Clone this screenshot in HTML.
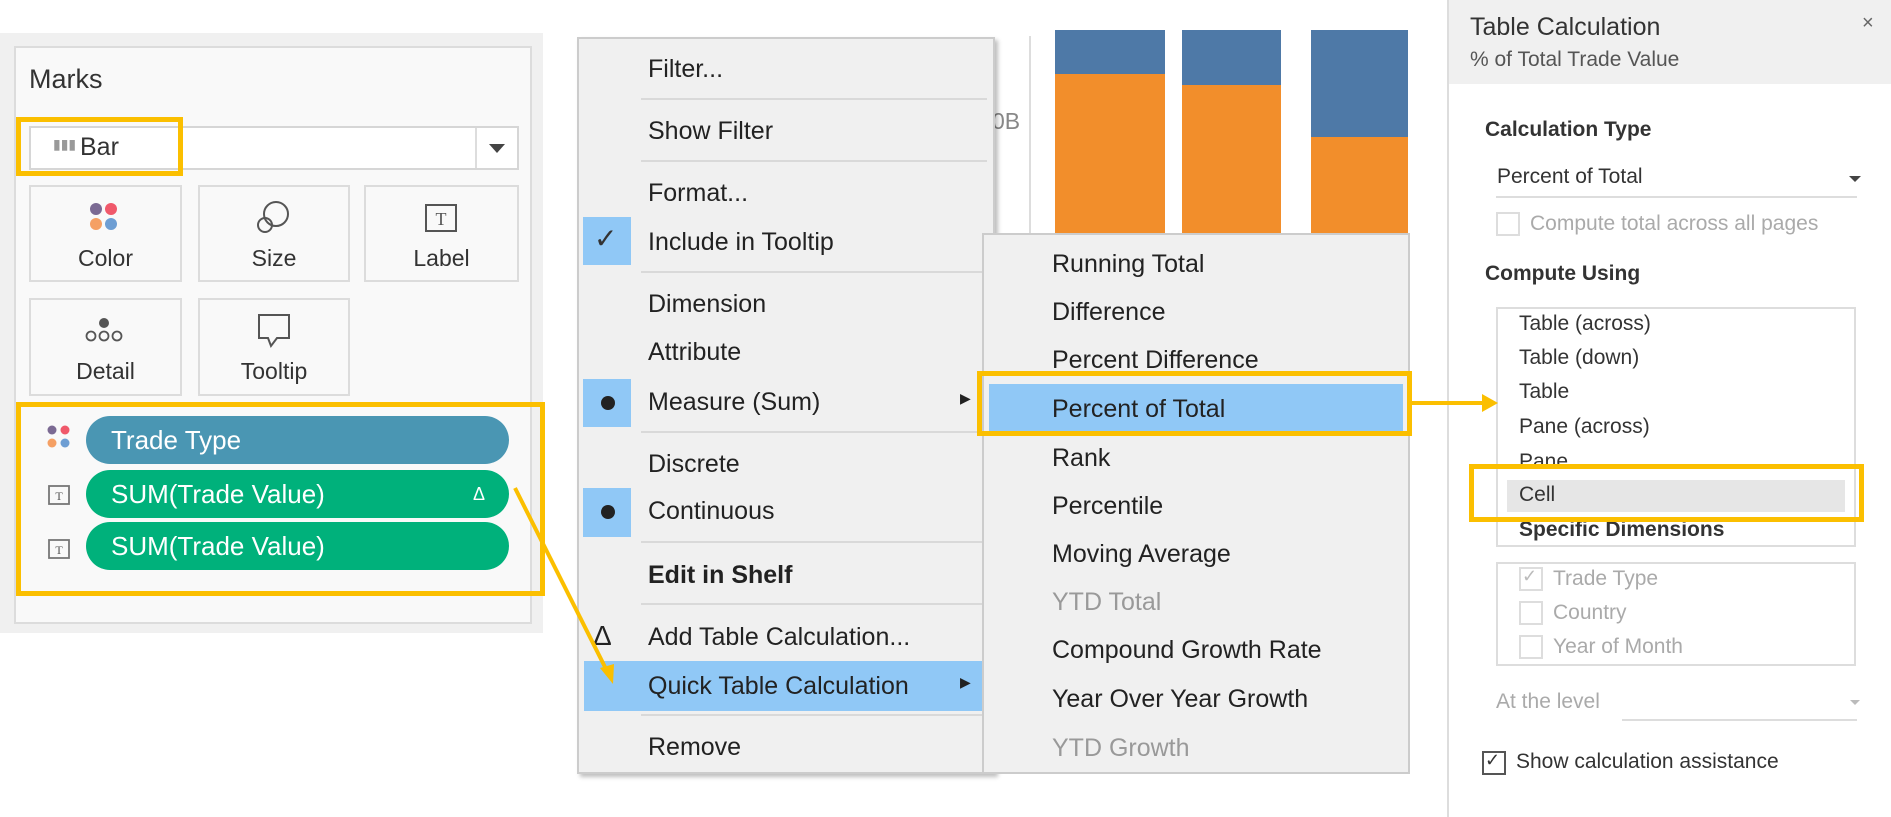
<!DOCTYPE html>
<html><head><meta charset="utf-8"><style>
*{box-sizing:border-box;margin:0;padding:0}
body{width:1891px;height:817px;position:relative;background:#fff;font-family:"Liberation Sans",sans-serif;overflow:hidden;color:#222}
.a{position:absolute}
.t{position:absolute;white-space:nowrap}
.card{position:absolute;border:2px solid #dcdcdc;background:#f9f9f9;text-align:center;font-size:23px;color:#333}
.mi{position:absolute;left:648px;font-size:25px;color:#222;white-space:nowrap}
.sep{position:absolute;left:641px;width:346px;height:2px;background:#d9d9d9}
.si{position:absolute;left:1052px;font-size:25px;color:#222;white-space:nowrap}
.yb{position:absolute;border:5px solid #fbbf00}
.pill{position:absolute;left:86px;width:423px;height:48px;border-radius:24px;color:#fff;font-size:26px;line-height:48px;padding-left:25px}
.li{position:absolute;left:1519px;font-size:21px;color:#333;white-space:nowrap}
.cb{position:absolute;width:24px;height:24px;border:2px solid #ccc;background:#fff}
</style></head><body>
<!-- Marks panel -->
<div class="a" style="left:0;top:33px;width:543px;height:600px;background:#f0f0f0"></div>
<div class="a" style="left:14px;top:46px;width:518px;height:578px;background:#f9f9f9;border:2px solid #dcdcdc"></div>
<div class="t" style="left:29px;top:64px;font-size:27px;color:#333">Marks</div>
<div class="a" style="left:29px;top:126px;width:490px;height:44px;border:2px solid #d6d6d6;background:#fff"></div>
<div class="a" style="left:475px;top:128px;width:2px;height:40px;background:#ddd"></div>
<div class="a" style="left:489px;top:144px;width:0;height:0;border-left:8px solid transparent;border-right:8px solid transparent;border-top:9px solid #444"></div>
<div class="t" style="left:53px;top:136px;font-size:14px;color:#999">▮▮▮</div>
<div class="t" style="left:80px;top:133px;font-size:25px;color:#333">Bar</div>
<div class="yb" style="left:16px;top:117px;width:167px;height:59px"></div>
<div class="card" style="left:29px;top:185px;width:153px;height:97px"><div style="margin-top:58px">Color</div></div>
<div class="card" style="left:198px;top:185px;width:152px;height:97px"><div style="margin-top:58px">Size</div></div>
<div class="card" style="left:364px;top:185px;width:155px;height:97px"><div style="margin-top:58px">Label</div></div>
<div class="card" style="left:29px;top:298px;width:153px;height:98px"><div style="margin-top:58px">Detail</div></div>
<div class="card" style="left:198px;top:298px;width:152px;height:98px"><div style="margin-top:58px">Tooltip</div></div>
<!-- icons -->
<svg class="a" style="left:0;top:0" width="560" height="400">
<circle cx="96" cy="209" r="6" fill="#7b6a93"/><circle cx="111" cy="209" r="6" fill="#f0596b"/>
<circle cx="96" cy="224" r="6" fill="#f5a064"/><circle cx="111" cy="224" r="6" fill="#6e9ed3"/>
<circle cx="276" cy="214" r="12" fill="none" stroke="#555" stroke-width="2"/><circle cx="265" cy="225" r="7" fill="none" stroke="#555" stroke-width="2"/>
<rect x="426" y="205" width="30" height="26" fill="none" stroke="#555" stroke-width="2"/><text x="441" y="225" font-size="18" text-anchor="middle" font-family="Liberation Serif" fill="#555">T</text>
<circle cx="104" cy="323" r="5" fill="#555"/><circle cx="91" cy="336" r="4.5" fill="none" stroke="#555" stroke-width="1.8"/><circle cx="104" cy="336" r="4.5" fill="none" stroke="#555" stroke-width="1.8"/><circle cx="117" cy="336" r="4.5" fill="none" stroke="#555" stroke-width="1.8"/>
<path d="M259 315 h30 v23 h-12 l-6 8 l-3 -8 h-9 z" fill="none" stroke="#555" stroke-width="2"/>
</svg>
<div class="yb" style="left:16px;top:402px;width:529px;height:194px"></div>
<svg class="a" style="left:0;top:400px" width="80" height="200">
<circle cx="52" cy="30" r="4.5" fill="#7b6a93"/><circle cx="65" cy="30" r="4.5" fill="#f0596b"/><circle cx="52" cy="43" r="4.5" fill="#f5a064"/><circle cx="65" cy="43" r="4.5" fill="#6e9ed3"/>
<rect x="49" y="86" width="20" height="18" fill="none" stroke="#777" stroke-width="1.8"/><text x="59" y="100" font-size="12" text-anchor="middle" font-family="Liberation Serif" fill="#555">T</text>
<rect x="49" y="140" width="20" height="18" fill="none" stroke="#777" stroke-width="1.8"/><text x="59" y="154" font-size="12" text-anchor="middle" font-family="Liberation Serif" fill="#555">T</text>
</svg>
<div class="pill" style="top:416px;background:#4a96b3">Trade Type</div>
<div class="pill" style="top:470px;background:#00b17b">SUM(Trade Value)<span style="position:absolute;right:24px;font-size:18px">Δ</span></div>
<div class="pill" style="top:522px;background:#00b17b">SUM(Trade Value)</div>

<!-- chart behind -->
<div class="a" style="left:1029px;top:36px;width:2px;height:200px;background:#ddd"></div>
<div class="t" style="left:992px;top:108px;font-size:23px;color:#888">0B</div>
<div class="a" style="left:1055px;top:30px;width:110px;height:205px;background:#f28e2b"></div>
<div class="a" style="left:1055px;top:30px;width:110px;height:44px;background:#4e79a7"></div>
<div class="a" style="left:1182px;top:30px;width:99px;height:205px;background:#f28e2b"></div>
<div class="a" style="left:1182px;top:30px;width:99px;height:55px;background:#4e79a7"></div>
<div class="a" style="left:1311px;top:30px;width:97px;height:205px;background:#f28e2b"></div>
<div class="a" style="left:1311px;top:30px;width:97px;height:107px;background:#4e79a7"></div>

<!-- context menu -->
<div class="a" style="left:577px;top:37px;width:418px;height:737px;background:#f0f0f0;border:2px solid #ccc;box-shadow:3px 3px 4px rgba(0,0,0,.25)"></div>
<div class="a" style="left:584px;top:661px;width:400px;height:50px;background:#90c8f6"></div>
<div class="a" style="left:583px;top:217px;width:48px;height:48px;background:#90c8f6"></div>
<div class="a" style="left:583px;top:379px;width:48px;height:48px;background:#90c8f6"></div>
<div class="a" style="left:583px;top:488px;width:48px;height:49px;background:#90c8f6"></div>
<div class="t" style="left:594px;top:222px;font-size:28px;color:#333">✓</div>
<div class="a" style="left:601px;top:396px;width:14px;height:14px;border-radius:50%;background:#222"></div>
<div class="a" style="left:601px;top:505px;width:14px;height:14px;border-radius:50%;background:#222"></div>
<div class="t" style="left:593px;top:620px;font-size:28px;color:#222">Δ</div>
<div class="mi" style="top:55px">Filter...</div>
<div class="sep" style="top:98px"></div>
<div class="mi" style="top:117px">Show Filter</div>
<div class="sep" style="top:160px"></div>
<div class="mi" style="top:179px">Format...</div>
<div class="mi" style="top:228px">Include in Tooltip</div>
<div class="sep" style="top:271px"></div>
<div class="mi" style="top:290px">Dimension</div>
<div class="mi" style="top:338px">Attribute</div>
<div class="mi" style="top:388px">Measure (Sum)</div>
<div class="t" style="left:960px;top:390px;font-size:14px">▶</div>
<div class="sep" style="top:431px"></div>
<div class="mi" style="top:450px">Discrete</div>
<div class="mi" style="top:497px">Continuous</div>
<div class="sep" style="top:541px"></div>
<div class="mi" style="top:561px;font-weight:bold">Edit in Shelf</div>
<div class="sep" style="top:603px"></div>
<div class="mi" style="top:623px">Add Table Calculation...</div>
<div class="mi" style="top:672px">Quick Table Calculation</div>
<div class="t" style="left:960px;top:674px;font-size:14px">▶</div>
<div class="sep" style="top:714px"></div>
<div class="mi" style="top:733px">Remove</div>

<!-- submenu -->
<div class="a" style="left:982px;top:233px;width:428px;height:541px;background:#f0f0f0;border:2px solid #ccc"></div>
<div class="a" style="left:989px;top:384px;width:414px;height:49px;background:#90c8f6"></div>
<div class="si" style="top:250px">Running Total</div>
<div class="si" style="top:298px">Difference</div>
<div class="si" style="top:346px">Percent Difference</div>
<div class="si" style="top:395px">Percent of Total</div>
<div class="si" style="top:444px">Rank</div>
<div class="si" style="top:492px">Percentile</div>
<div class="si" style="top:540px">Moving Average</div>
<div class="si" style="top:588px;color:#999">YTD Total</div>
<div class="si" style="top:636px">Compound Growth Rate</div>
<div class="si" style="top:685px">Year Over Year Growth</div>
<div class="si" style="top:734px;color:#999">YTD Growth</div>
<div class="yb" style="left:977px;top:371px;width:435px;height:65px"></div>

<!-- right panel -->
<div class="a" style="left:1447px;top:0;width:444px;height:817px;background:#fff;border-left:2px solid #ddd"></div>
<div class="a" style="left:1449px;top:0;width:442px;height:84px;background:#f0f0f0"></div>
<div class="t" style="left:1470px;top:13px;font-size:25px;color:#333">Table Calculation</div>
<div class="t" style="left:1470px;top:48px;font-size:21px;color:#555">% of Total Trade Value</div>
<div class="t" style="left:1862px;top:12px;font-size:20px;color:#666">×</div>
<div class="t" style="left:1485px;top:118px;font-size:21px;font-weight:bold;color:#333">Calculation Type</div>
<div class="t" style="left:1497px;top:165px;font-size:21px;color:#333">Percent of Total</div>
<div class="a" style="left:1849px;top:176px;border-left:6px solid transparent;border-right:6px solid transparent;border-top:6px solid #444"></div>
<div class="a" style="left:1496px;top:196px;width:361px;height:2px;background:#ddd"></div>
<div class="cb" style="left:1496px;top:212px;border-color:#ddd"></div>
<div class="t" style="left:1530px;top:212px;font-size:21px;color:#aaa">Compute total across all pages</div>
<div class="t" style="left:1485px;top:262px;font-size:21px;font-weight:bold;color:#333">Compute Using</div>
<div class="a" style="left:1496px;top:307px;width:360px;height:240px;border:2px solid #ddd"></div>
<div class="a" style="left:1507px;top:480px;width:338px;height:32px;background:#e6e6e6"></div>
<div class="li" style="top:312px">Table (across)</div>
<div class="li" style="top:346px">Table (down)</div>
<div class="li" style="top:380px">Table</div>
<div class="li" style="top:415px">Pane (across)</div>
<div class="li" style="top:450px">Pane</div>
<div class="li" style="top:483px">Cell</div>
<div class="li" style="top:518px;font-weight:bold">Specific Dimensions</div>
<div class="yb" style="left:1469px;top:464px;width:395px;height:58px"></div>
<div class="a" style="left:1496px;top:562px;width:360px;height:104px;border:2px solid #ddd"></div>
<div class="cb" style="left:1519px;top:567px;border-color:#ddd"></div><div class="t" style="left:1522px;top:566px;font-size:18px;color:#bbb">✓</div>
<div class="t" style="left:1553px;top:567px;font-size:21px;color:#aaa">Trade Type</div>
<div class="cb" style="left:1519px;top:601px;border-color:#ddd"></div>
<div class="t" style="left:1553px;top:601px;font-size:21px;color:#aaa">Country</div>
<div class="cb" style="left:1519px;top:635px;border-color:#ddd"></div>
<div class="t" style="left:1553px;top:635px;font-size:21px;color:#aaa">Year of Month</div>
<div class="t" style="left:1496px;top:690px;font-size:21px;color:#aaa">At the level</div>
<div class="a" style="left:1622px;top:719px;width:235px;height:2px;background:#ddd"></div>
<div class="a" style="left:1850px;top:700px;border-left:5px solid transparent;border-right:5px solid transparent;border-top:5px solid #bbb"></div>
<div class="cb" style="left:1482px;top:751px;border-color:#555"></div><div class="t" style="left:1485px;top:750px;font-size:18px;color:#333">✓</div>
<div class="t" style="left:1516px;top:750px;font-size:21px;color:#333">Show calculation assistance</div>

<!-- arrows -->
<svg class="a" style="left:0;top:0" width="1891" height="817">
<line x1="515" y1="488" x2="609" y2="675" stroke="#fbbf00" stroke-width="4"/>
<polygon points="613,684 600,668 614,664" fill="#fbbf00"/>
<line x1="1411" y1="403" x2="1485" y2="403" stroke="#fbbf00" stroke-width="4"/>
<polygon points="1498,403 1482,394 1482,412" fill="#fbbf00"/>
</svg>
</body></html>
